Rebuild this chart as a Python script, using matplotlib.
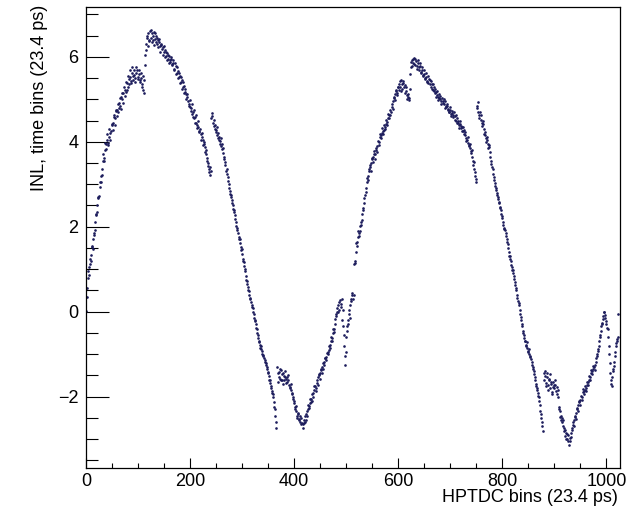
import numpy as np
import matplotlib
matplotlib.use("Agg")
import matplotlib.pyplot as plt
from matplotlib.ticker import MultipleLocator

# INL values, even HPTDC bins (0, 2, ..., 1022)
inl_even = [
    0.02, 0.55, 0.95, 0.87, 1.25, 1.34, 1.55, 1.70, 1.80, 2.10, 2.30, 2.50, 2.70, 2.94, 3.05, 3.22,
    3.55, 3.62, 3.80, 3.95, 4.05, 3.98, 4.12, 4.20, 4.25, 4.40, 4.45, 4.58, 4.55, 4.72, 4.75, 4.70,
    4.92, 4.85, 5.05, 5.00, 5.15, 5.22, 5.18, 5.39, 5.30, 5.48, 5.53, 5.42, 5.62, 5.55, 5.68, 5.50,
    5.62, 5.70, 5.52, 5.60, 5.45, 5.50, 5.30, 5.22, 5.45, 6.05, 6.30, 6.45, 6.55, 6.40, 6.62, 6.35,
    6.50, 6.58, 6.42, 6.48, 6.30, 6.40, 6.35, 6.25, 6.30, 6.18, 6.22, 6.12, 6.15, 6.02, 6.08, 5.95,
    6.02, 5.88, 5.95, 5.82, 5.85, 5.70, 5.78, 5.62, 5.66, 5.52, 5.55, 5.40, 5.45, 5.30, 5.32, 5.18,
    5.12, 5.06, 4.95, 4.90, 4.82, 4.80, 4.65, 4.70, 4.55, 4.59, 4.45, 4.40, 4.35, 4.25, 4.18, 4.12,
    4.05, 3.95, 3.88, 3.80, 3.62, 3.50, 3.35, 3.22, 3.30, 4.68, 4.45, 4.52, 4.30, 4.28, 4.15, 4.20,
    4.05, 4.02, 3.90, 3.95, 3.74, 3.60, 3.45, 3.25, 3.18, 3.00, 2.85, 2.70, 2.62, 2.50, 2.35, 2.28,
    2.10, 1.93, 1.85, 1.70, 1.62, 1.45, 1.35, 1.20, 1.08, 0.95, 0.75, 0.65, 0.52, 0.40, 0.30, 0.15,
    0.08, -0.05, -0.20, -0.30, -0.42, -0.55, -0.70, -0.78, -0.88, -0.92, -1.02, -1.10, -1.13, -1.25, -1.35, -1.45,
    -1.60, -1.68, -1.80, -1.92, -2.00, -2.25, -2.45, -2.73, -1.45, -1.55, -1.35, -1.62, -1.48, -1.70, -1.52, -1.40,
    -1.58, -1.65, -1.50, -1.72, -1.78, -1.85, -1.92, -2.00, -2.15, -2.30, -2.35, -2.45, -2.40, -2.55, -2.60, -2.50,
    -2.73, -2.62, -2.45, -2.55, -2.35, -2.30, -2.22, -2.15, -2.05, -2.10, -1.92, -1.85, -1.76, -1.80, -1.62, -1.55,
    -1.50, -1.44, -1.38, -1.30, -1.35, -1.18, -1.10, -1.06, -0.95, -0.90, -0.78, -0.70, -0.62, -0.50, -0.40, -0.30,
    -0.10, -0.02, 0.15, 0.05, 0.28, 0.10, -0.20, -0.35, -0.80, -1.25, -0.60, -0.35, -0.20, 0.05, 0.15, 0.30,
    0.45, 0.40, 1.15, 1.40, 1.65, 1.75, 1.85, 1.90, 2.05, 2.16, 2.40, 2.55, 2.75, 2.90, 3.15, 3.20,
    3.35, 3.41, 3.50, 3.60, 3.65, 3.72, 3.70, 3.81, 3.90, 4.00, 4.12, 4.08, 4.20, 4.25, 4.28, 4.35,
    4.42, 4.47, 4.55, 4.62, 4.75, 4.70, 4.88, 4.95, 5.05, 5.12, 5.22, 5.15, 5.28, 5.35, 5.30, 5.45,
    5.25, 5.38, 5.34, 5.20, 5.10, 5.05, 4.99, 5.25, 5.75, 5.93, 5.85, 5.98, 5.80, 5.90, 5.72, 5.85,
    5.70, 5.78, 5.62, 5.70, 5.55, 5.60, 5.48, 5.52, 5.42, 5.38, 5.45, 5.30, 5.35, 5.22, 5.28, 5.15,
    5.18, 5.10, 5.05, 5.12, 5.00, 4.95, 5.02, 4.92, 4.88, 4.95, 4.82, 4.85, 4.78, 4.70, 4.75, 4.65,
    4.68, 4.58, 4.60, 4.50, 4.55, 4.45, 4.40, 4.42, 4.32, 4.35, 4.25, 4.28, 4.15, 4.10, 4.05, 3.98,
    3.90, 3.85, 3.74, 3.65, 3.46, 3.35, 3.20, 3.06, 4.80, 4.94, 4.62, 4.64, 4.45, 4.50, 4.30, 4.24,
    4.10, 4.05, 3.95, 3.88, 3.75, 3.55, 3.41, 3.25, 3.10, 2.95, 2.87, 2.75, 2.65, 2.55, 2.47, 2.30,
    2.20, 2.05, 1.98, 1.85, 1.72, 1.60, 1.40, 1.30, 1.20, 1.05, 0.99, 0.85, 0.70, 0.55, 0.40, 0.25,
    0.15, -0.05, -0.20, -0.35, -0.50, -0.62, -0.70, -0.80, -0.85, -0.95, -1.00, -1.06, -1.18, -1.30, -1.40, -1.55,
    -1.70, -1.80, -1.92, -2.00, -2.20, -2.40, -2.60, -2.82, -1.60, -1.39, -1.75, -1.55, -1.85, -1.62, -1.48, -1.70,
    -1.90, -1.65, -1.80, -1.72, -1.95, -1.85, -2.24, -2.35, -2.45, -2.61, -2.55, -2.75, -2.94, -2.85, -3.00, -2.90,
    -3.13, -3.05, -2.85, -2.75, -2.61, -2.55, -2.45, -2.38, -2.30, -2.20, -2.10, -2.07, -2.00, -1.90, -1.95, -1.84,
    -1.80, -1.72, -1.65, -1.60, -1.53, -1.45, -1.40, -1.35, -1.30, -1.25, -1.10, -1.00, -0.89, -0.70, -0.55, -0.35,
    -0.26, -0.10, 0.00, -0.15, -0.30, -0.42, -0.80, -1.20, -1.60, -1.76, -1.40, -1.29, -1.05, -0.82, -0.70, -0.59,
]

# INL values, odd HPTDC bins (1, 3, ..., 1023)
inl_odd = [
    0.35, 0.80, 1.05, 1.12, 1.20, 1.52, 1.48, 1.85, 1.92, 2.28, 2.35, 2.68, 2.72, 3.05, 3.20, 3.35,
    3.70, 3.55, 3.98, 3.82, 4.18, 3.92, 4.30, 4.05, 4.42, 4.28, 4.62, 4.40, 4.75, 4.60, 4.88, 4.80,
    5.02, 4.78, 5.15, 4.92, 5.30, 5.08, 5.40, 5.22, 5.55, 5.35, 5.68, 5.38, 5.75, 5.45, 5.58, 5.40,
    5.75, 5.48, 5.68, 5.40, 5.62, 5.35, 5.55, 5.15, 5.80, 6.15, 6.48, 6.25, 6.38, 6.60, 6.45, 6.56,
    6.40, 6.28, 6.55, 6.35, 6.45, 6.22, 6.42, 6.12, 6.28, 6.05, 6.25, 6.00, 6.12, 5.92, 6.05, 5.85,
    5.92, 6.00, 5.80, 5.92, 5.72, 5.85, 5.60, 5.75, 5.50, 5.62, 5.38, 5.52, 5.25, 5.40, 5.15, 5.25,
    5.00, 5.12, 4.85, 4.98, 4.72, 4.88, 4.58, 4.75, 4.45, 4.62, 4.32, 4.48, 4.22, 4.30, 4.05, 4.20,
    3.92, 4.00, 3.75, 3.70, 3.55, 3.42, 3.28, 3.40, 4.55, 4.60, 4.38, 4.40, 4.22, 4.35, 4.10, 4.12,
    3.95, 4.10, 3.82, 3.85, 3.65, 3.52, 3.30, 3.35, 3.08, 2.92, 2.78, 2.75, 2.55, 2.42, 2.40, 2.18,
    2.02, 1.98, 1.75, 1.72, 1.52, 1.48, 1.25, 1.18, 1.00, 0.85, 0.72, 0.58, 0.48, 0.32, 0.22, 0.12,
    -0.02, -0.15, -0.22, -0.38, -0.50, -0.62, -0.72, -0.85, -0.80, -1.00, -1.05, -1.18, -1.22, -1.30, -1.42, -1.52,
    -1.62, -1.75, -1.88, -1.95, -2.12, -2.30, -2.60, -1.30, -1.65, -1.42, -1.58, -1.38, -1.60, -1.45, -1.62, -1.55,
    -1.68, -1.55, -1.62, -1.80, -1.70, -1.95, -2.05, -2.10, -2.25, -2.22, -2.50, -2.38, -2.52, -2.45, -2.65, -2.62,
    -2.65, -2.55, -2.60, -2.40, -2.45, -2.20, -2.28, -2.05, -2.12, -1.95, -2.00, -1.75, -1.88, -1.68, -1.72, -1.48,
    -1.58, -1.35, -1.45, -1.22, -1.25, -1.08, -1.15, -0.98, -1.00, -0.82, -0.85, -0.60, -0.68, -0.42, -0.48, -0.18,
    -0.05, 0.08, 0.00, 0.22, 0.18, 0.30, 0.05, -0.55, -1.05, -0.95, -0.45, -0.28, -0.05, -0.15, 0.25, 0.38,
    0.30, 1.12, 1.20, 1.62, 1.55, 1.90, 1.78, 2.02, 2.12, 2.30, 2.45, 2.68, 2.82, 3.05, 3.10, 3.30,
    3.45, 3.32, 3.62, 3.52, 3.78, 3.60, 3.85, 3.75, 4.02, 3.92, 4.18, 4.15, 4.32, 4.18, 4.40, 4.30,
    4.52, 4.40, 4.65, 4.55, 4.62, 4.82, 4.78, 5.02, 4.98, 5.20, 5.10, 5.30, 5.22, 5.42, 5.20, 5.35,
    5.42, 5.28, 5.15, 5.30, 5.00, 5.12, 5.02, 5.60, 5.88, 5.78, 5.95, 5.82, 5.95, 5.78, 5.92, 5.75,
    5.85, 5.65, 5.75, 5.58, 5.68, 5.50, 5.62, 5.40, 5.55, 5.48, 5.35, 5.42, 5.25, 5.35, 5.20, 5.25,
    5.05, 5.20, 4.98, 5.02, 5.08, 4.88, 4.95, 5.00, 4.80, 4.85, 4.90, 4.75, 4.70, 4.82, 4.60, 4.72,
    4.62, 4.70, 4.52, 4.62, 4.45, 4.50, 4.32, 4.48, 4.38, 4.25, 4.35, 4.18, 4.22, 4.02, 4.12, 3.92,
    3.95, 3.78, 3.80, 3.55, 3.52, 3.28, 3.12, 4.85, 4.70, 4.55, 4.70, 4.52, 4.38, 4.42, 4.18, 4.15,
    4.00, 4.12, 3.85, 3.92, 3.65, 3.48, 3.35, 3.18, 3.02, 2.90, 2.80, 2.70, 2.58, 2.45, 2.40, 2.25,
    2.12, 1.95, 1.92, 1.78, 1.65, 1.50, 1.32, 1.25, 1.10, 0.98, 0.92, 0.78, 0.62, 0.50, 0.32, 0.20,
    0.05, -0.12, -0.28, -0.45, -0.55, -0.68, -0.78, -0.72, -0.92, -0.88, -1.05, -1.12, -1.25, -1.35, -1.48, -1.62,
    -1.75, -1.85, -1.98, -2.10, -2.35, -2.50, -2.70, -1.45, -1.52, -1.68, -1.45, -1.72, -1.58, -1.80, -1.65, -1.95,
    -1.78, -1.72, -1.60, -1.88, -1.78, -2.00, -2.30, -2.48, -2.55, -2.50, -2.70, -2.82, -2.78, -3.00, -2.88, -3.05,
    -2.98, -2.95, -2.78, -2.68, -2.70, -2.48, -2.52, -2.28, -2.35, -2.12, -2.20, -1.98, -2.08, -1.82, -1.88, -1.75,
    -1.88, -1.65, -1.72, -1.52, -1.60, -1.38, -1.48, -1.28, -1.38, -1.18, -1.05, -0.92, -0.80, -0.60, -0.45, -0.30,
    -0.18, -0.02, -0.08, -0.22, -0.38, -0.60, -1.00, -1.45, -1.70, -1.55, -1.35, -1.18, -0.95, -0.75, -0.65, -0.05,
]

bins_even = list(range(0, 2 * len(inl_even), 2))
bins_odd = list(range(1, 2 * len(inl_odd), 2))

xlabel = "HPTDC bins (23.4 ps)"
ylabel = "INL, time bins (23.4 ps)"

plt.rcParams['font.family'] = ['Liberation Sans', 'DejaVu Sans']
plt.rcParams['font.size'] = 13

W, H = 626, 508
fig = plt.figure(figsize=(W / 100, H / 100), dpi=100)
L, R, T, B = 86, 619.5, 6.7, 467.5
ax = fig.add_axes([L / W, 1 - B / H, (R - L) / W, (B - T) / H])

marker_color = '#1c1c5c'
ax.plot(bins_even, inl_even, ls='none', marker='o', ms=1.9, mew=0, color=marker_color)
ax.plot(bins_odd, inl_odd, ls='none', marker='o', ms=1.9, mew=0, color=marker_color)

ax.set_xlim(0, 1025)
ax.set_ylim(-3.67, 7.18)

ax.xaxis.set_major_locator(MultipleLocator(200))
ax.xaxis.set_minor_locator(MultipleLocator(50))
ax.yaxis.set_major_locator(MultipleLocator(2))
ax.yaxis.set_minor_locator(MultipleLocator(0.5))

ax.tick_params(axis='both', which='both', direction='in', top=False, right=False,
               width=0.8, colors='black', labelsize=13)
ax.tick_params(axis='x', which='major', length=7.2, pad=4)
ax.tick_params(axis='x', which='minor', length=3.6)
ax.tick_params(axis='y', which='major', length=16.5, pad=5.5)
ax.tick_params(axis='y', which='minor', length=8.3)

for s in ax.spines.values():
    s.set_linewidth(0.9)
    s.set_color('black')

fig.text(618 / W, 1 - 498 / H, xlabel, ha='right', va='center', fontsize=13)
fig.text(40 / W, 1 - 5 / H, ylabel, rotation=90, ha='center', va='top', fontsize=13)

fig.savefig('out.png', dpi=100)
